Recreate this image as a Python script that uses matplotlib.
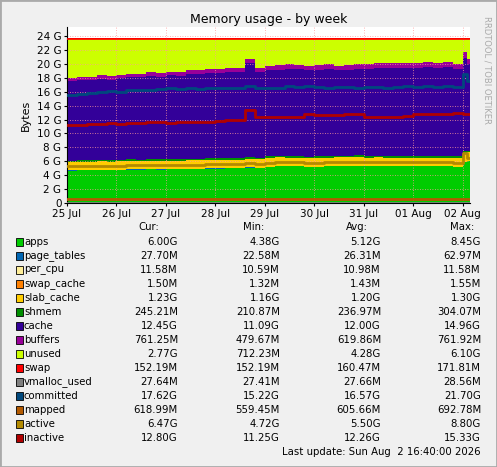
import numpy as np
import matplotlib
matplotlib.use("Agg")
import matplotlib.pyplot as plt
from matplotlib.patches import Rectangle

days = [i*0.2 for i in range(41)] + [8.08]
apps = [4.65,4.7,4.7,4.75,4.7,4.75, 4.8,4.8,4.85,4.8,4.85, 4.85,4.9,4.9,4.95,4.95,
        5.0,5.0,5.1,5.05,5.2, 5.3,5.3,5.25,5.2,5.2, 5.25,5.3,5.3,5.35,5.3,
        5.3,5.3,5.25,5.3,5.25, 5.3,5.25,5.3,5.2,5.9, 6.0]
page_tables = [0.026]*41 + [0.028]
per_cpu = [0.011]*42
swap_cache = [0.0015]*42
slab = [1.17,1.18,1.17,1.19,1.18,1.18, 1.19,1.18,1.2,1.19,1.2, 1.19,1.2,1.2,1.19,1.2,
        1.2,1.21,1.22,1.2,1.21, 1.21,1.2,1.21,1.2,1.21, 1.2,1.21,1.21,1.2,1.2,
        1.21,1.2,1.21,1.2,1.21, 1.2,1.21,1.2,1.22,1.28, 1.23]
shmem = [0.22,0.22,0.23,0.23,0.23,0.23, 0.23,0.23,0.23,0.24,0.24, 0.24,0.24,0.24,0.24,0.24,
         0.24,0.24,0.25,0.24,0.24, 0.24,0.24,0.24,0.24,0.24, 0.24,0.24,0.24,0.24,0.24,
         0.24,0.24,0.24,0.24,0.24, 0.24,0.24,0.24,0.24,0.29, 0.245]
cache = [11.4,11.5,11.5,11.6,11.6,11.7, 11.8,11.8,11.9,11.9,12.0, 12.0,12.1,12.1,12.2,12.2,
         12.3,12.3,13.5,12.3,12.4, 12.4,12.5,12.5,12.4,12.5, 12.6,12.3,12.4,12.5,12.5,
         12.6,12.6,12.7,12.6,12.7, 12.7,12.6,12.7,12.6,13.4, 12.45]
buffers = [0.48,0.5,0.5,0.52,0.52,0.53, 0.54,0.55,0.55,0.56,0.57, 0.58,0.58,0.59,0.6,0.6,
           0.61,0.61,0.62,0.62,0.63, 0.63,0.64,0.64,0.65,0.65, 0.66,0.66,0.67,0.67,0.68,
           0.68,0.69,0.7,0.7,0.71, 0.72,0.72,0.73,0.74,0.76, 0.76]
total = [23.6]*42
swap = [0.17]*20 + [0.16]*20 + [0.152]*2
committed = [15.5,15.7,15.8,16.0,16.1,16.0, 16.2,16.2,16.3,16.4,16.5, 16.4,16.5,16.4,16.5,16.6,
             16.5,16.6,16.8,16.5,16.5, 16.6,16.8,16.7,16.8,16.7, 16.6,16.7,16.7,16.6,16.7,
             16.7,16.6,16.7,16.8,16.7, 16.8,16.7,16.8,16.7,18.5, 17.6]
inactive = [11.2,11.2,11.3,11.3,11.5,11.4, 11.5,11.5,11.6,11.6,11.5, 11.6,11.6,11.7,11.7,11.8,
            11.9,11.9,13.3,12.4,12.4, 12.4,12.4,12.4,12.8,12.6, 12.7,12.7,12.8,12.8,12.3,
            12.3,12.3,12.3,12.5,12.8, 12.8,12.8,12.8,13.0,12.8, 12.8]
active = [5.25,5.3,5.3,5.35,5.3,5.35, 5.4,5.4,5.45,5.4,5.45, 5.45,5.5,5.5,5.55,5.55,
          5.6,5.6,5.7,5.65,5.8, 5.9,5.9,5.85,5.8,5.8, 5.85,5.9,5.9,5.95,5.9,
          5.9,5.9,5.85,5.9,5.85, 5.9,5.85,5.9,5.8,7.2, 6.47]
mapped = [0.6]*42
vmalloc = [0.0276]*42

names = ["apps","page_tables","per_cpu","swap_cache","slab_cache","shmem","cache","buffers",
         "unused","swap","vmalloc_used","committed","mapped","active","inactive"]
colors = ["#00CC00","#0066B3","#FFEE99","#FF8000","#FFCC00","#008F00","#330099","#990099",
          "#CCFF00","#FF0000","#808080","#00487D","#B35A00","#B38A00","#B00000"]
cur = ["6.00G","27.70M","11.58M","1.50M","1.23G","245.21M","12.45G","761.25M","2.77G","152.19M","27.64M","17.62G","618.99M","6.47G","12.80G"]
mn = ["4.38G","22.58M","10.59M","1.32M","1.16G","210.87M","11.09G","479.67M","712.23M","152.19M","27.41M","15.22G","559.45M","4.72G","11.25G"]
avg = ["5.12G","26.31M","10.98M","1.43M","1.20G","236.97M","12.00G","619.86M","4.28G","160.47M","27.66M","16.57G","605.66M","5.50G","12.26G"]
mx = ["8.45G","62.97M","11.58M","1.55M","1.30G","304.07M","14.96G","761.92M","6.10G","171.81M","28.56M","21.70G","692.78M","8.80G","15.33G"]

W, H = 497, 467
fig = plt.figure(figsize=(W/100, H/100), dpi=100, facecolor="#F0F0F0")
ax = fig.add_axes([67/W, 1-203/H, 403/W, 176/H])
ax.set_facecolor("white")

x = np.array(days + [8.16])
def ext(a): return np.append(np.array(a, float), a[-1])
stack = [ext(a) for a in [apps, page_tables, per_cpu, swap_cache, slab, shmem, cache, buffers]]
used = sum(stack)
unused = ext(total) - used
stack.append(unused)
stack.append(ext(swap))
base = np.zeros_like(x)
for arr, c in zip(stack, colors[:10]):
    ax.fill_between(x, base, base+arr, step="post", color=c, lw=0, zorder=1)
    base = base + arr
ax.step(x, ext(total), where="post", color="#FF0000", lw=1.2, zorder=3)
for arr, c in [(vmalloc, colors[10]), (committed, colors[11]), (mapped, colors[12]),
               (active, colors[13]), (inactive, colors[14])]:
    ax.step(x, ext(arr), where="post", color=c, lw=2, zorder=3)

ax.set_xlim(0, 8.15)
ax.set_ylim(0, 25.3)
ax.set_yticks(range(0, 25, 2))
ax.set_yticklabels(["0"] + [f"{v} G" for v in range(2, 25, 2)], fontsize=7.5)
ax.set_xticks(range(9))
ax.set_xticklabels(["25 Jul","26 Jul","27 Jul","28 Jul","29 Jul","30 Jul","31 Jul","01 Aug","02 Aug"], fontsize=7.5)
ax.grid(True, color="#FF9999", ls=(0, (1, 2)), lw=0.6, zorder=2)
for s in ["top", "right"]:
    ax.spines[s].set_visible(False)
ax.tick_params(length=2, pad=2, colors="#000000")
ax.set_ylabel("Bytes", fontsize=8)
ax.set_title("Memory usage - by week", fontsize=9, pad=3)

fig.text(487/W, 1-70/H, "RRDTOOL / TOBI OETIKER", rotation=270, fontsize=6, color="#AAAAAA", ha="center", va="center")

fs = 7.3
def fy(py): return 1-py/H
fig.text(159/W, fy(227), "Cur:", ha="right", va="center", fontsize=fs)
fig.text(264/W, fy(227), "Min:", ha="right", va="center", fontsize=fs)
fig.text(368/W, fy(227), "Avg:", ha="right", va="center", fontsize=fs)
fig.text(474/W, fy(227), "Max:", ha="right", va="center", fontsize=fs)
for i, n in enumerate(names):
    py = 242 + i*14
    fig.patches.append(Rectangle((16/W, fy(py+4)), 7/W, 8/H, transform=fig.transFigure,
                                 facecolor=colors[i], edgecolor="black", lw=0.6))
    fig.text(24/W, fy(py), n, ha="left", va="center", fontsize=fs)
    fig.text(178/W, fy(py), cur[i], ha="right", va="center", fontsize=fs)
    fig.text(280/W, fy(py), mn[i], ha="right", va="center", fontsize=fs)
    fig.text(381/W, fy(py), avg[i], ha="right", va="center", fontsize=fs)
    fig.text(481/W, fy(py), mx[i], ha="right", va="center", fontsize=fs)
fig.text(481/W, fy(452), "Last update: Sun Aug  2 16:40:00 2026", ha="right", va="center", fontsize=fs)

fig.patches.append(Rectangle((0, 0), 1, 1, transform=fig.transFigure, fill=False, edgecolor="#AAAAAA", lw=2))
fig.savefig("out.png", dpi=100, facecolor=fig.get_facecolor())
